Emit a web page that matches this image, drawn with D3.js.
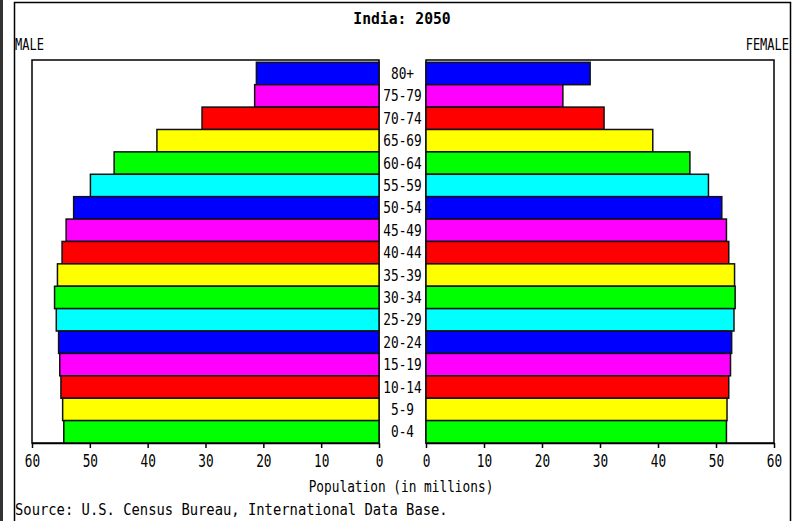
<!DOCTYPE html>
<html>
<head>
<meta charset="utf-8">
<script src="https://cdn.jsdelivr.net/npm/d3@7"></script>
<style>
  body { margin: 0; background: #fff; }
  svg text { font-family: "DejaVu Sans Mono", "Liberation Mono", monospace; fill: #000; }
</style>
</head>
<body>
<div id="chart"></div>
<script>
// donnees (millions), du haut vers le bas
const groupesAge = ["80+", "75-79", "70-74", "65-69", "60-64", "55-59", "50-54", "45-49", "40-44",
                    "35-39", "30-34", "25-29", "20-24", "15-19", "10-14", "5-9", "0-4"];
const hommes = [21.2, 21.5, 30.6, 38.4, 45.8, 49.9, 52.8, 54.1, 54.8,
                55.6, 56.1, 55.8, 55.4, 55.2, 55.0, 54.7, 54.5];
const femmes = [28.3, 23.6, 30.7, 39.1, 45.5, 48.7, 51.0, 51.8, 52.2,
                53.2, 53.3, 53.1, 52.7, 52.5, 52.2, 51.9, 51.8];
const couleurs = ["#0000ff", "#ff00ff", "#ff0000", "#ffff00", "#00ff00", "#00ffff"];
const graduations = [0, 10, 20, 30, 40, 50, 60];

const W = 793, H = 521;
const svg = d3.select("#chart").append("svg")
    .attr("width", W)
    .attr("height", H);

svg.append("rect").attr("width", W).attr("height", H).attr("fill", "#fff");

// cadres exterieurs
svg.append("line").attr("x1", 1.5).attr("x2", 1.5).attr("y1", 0).attr("y2", H)
    .attr("stroke", "#333").attr("stroke-width", 3);
svg.append("path")
    .attr("d", "M14.5," + H + " V2.5 H790.5 V" + H)
    .attr("fill", "none").attr("stroke", "#000").attr("stroke-width", 1.5);

const haut = 60, bas = 443;
const y = d3.scaleBand().domain(groupesAge).range([62.3, bas]).padding(0);
const xH = d3.scaleLinear().domain([0, 60]).range([379, 32]);
const xF = d3.scaleLinear().domain([0, 60]).range([426, 774]);

// petit utilitaire pour le texte etroit
function texte(x, yy, t, opts) {
  opts = opts || {};
  const sx = opts.sx || 0.8;
  return svg.append("text")
      .attr("transform", "translate(" + x + "," + yy + ") scale(" + sx + ",1)")
      .attr("text-anchor", opts.anchor || "middle")
      .attr("font-size", opts.size || 16)
      .attr("font-weight", opts.bold ? "bold" : "normal")
      .text(t);
}

// cadres des deux panneaux
[xH, xF].forEach(sc => {
  const r = sc.range();
  svg.append("rect")
      .attr("x", Math.min(r[0], r[1]))
      .attr("y", haut)
      .attr("width", Math.abs(r[1] - r[0]))
      .attr("height", bas - haut)
      .attr("fill", "none")
      .attr("stroke", "#000")
      .attr("stroke-width", 1.5);
});

const couleur = (d, i) => couleurs[i % couleurs.length];

svg.append("g").selectAll("rect")
    .data(hommes)
    .enter()
    .append("rect")
    .attr("x", d => xH(d))
    .attr("y", (d, i) => y(groupesAge[i]))
    .attr("width", d => xH(0) - xH(d))
    .attr("height", y.bandwidth())
    .attr("fill", couleur)
    .attr("stroke", "#111")
    .attr("stroke-width", 1.5);

svg.append("g").selectAll("rect")
    .data(femmes)
    .enter()
    .append("rect")
    .attr("x", xF(0))
    .attr("y", (d, i) => y(groupesAge[i]))
    .attr("width", d => xF(d) - xF(0))
    .attr("height", y.bandwidth())
    .attr("fill", couleur)
    .attr("stroke", "#111")
    .attr("stroke-width", 1.5);

// etiquettes d'age
groupesAge.forEach(a => {
  texte(402.5, y(a) + y.bandwidth() / 2 + 5.5, a);
});

// axes
[xH, xF].forEach(sc => {
  const g = svg.append("g")
      .attr("transform", "translate(0," + bas + ")")
      .call(d3.axisBottom(sc).tickValues(graduations).tickSize(5).tickSizeOuter(0).tickFormat(d3.format("d")));
  g.select(".domain").attr("stroke-width", 1.5);
  g.selectAll(".tick line").attr("stroke-width", 1.5);
  g.selectAll(".tick text")
      .attr("font-size", 17)
      .attr("y", 12)
      .attr("dy", "0.71em")
      .attr("font-family", "DejaVu Sans Mono")
      .attr("transform", "scale(0.75,1)")
      .attr("x", 0);
});

// titres
texte(402, 24, "India: 2050", { bold: true, sx: 0.95, size: 15.5 });
texte(15, 50, "MALE", { anchor: "start", sx: 0.8, size: 15 });
texte(789, 50, "FEMALE", { anchor: "end", sx: 0.8, size: 15 });
texte(401, 492, "Population (in millions)", { sx: 0.8 });
texte(15, 515, "Source: U.S. Census Bureau, International Data Base.", { anchor: "start", sx: 0.865 });
</script>
</body>
</html>
